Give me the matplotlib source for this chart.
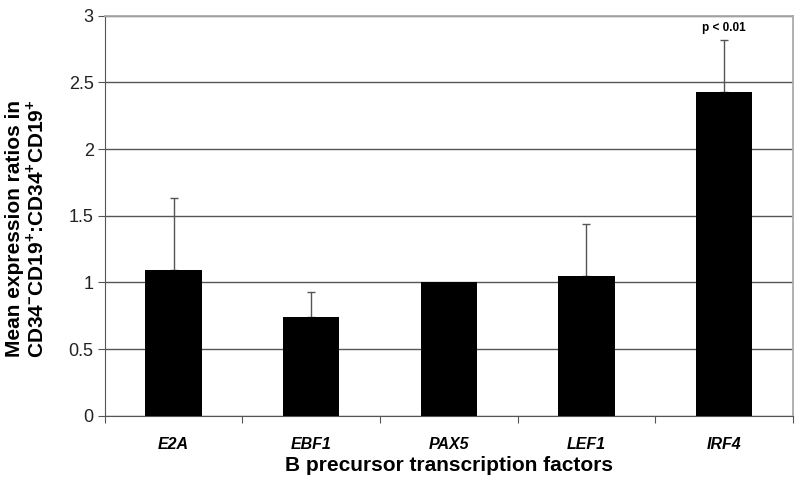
import numpy as np
import matplotlib

matplotlib.use("Agg")
import matplotlib.pyplot as plt

plt.rcParams["font.family"] = ["Liberation Sans", "DejaVu Sans"]
plt.rcParams["mathtext.fontset"] = "custom"
plt.rcParams["mathtext.rm"] = "Liberation Sans:bold"
plt.rcParams["mathtext.bf"] = "Liberation Sans:bold"

# --- data ---
genes = ["E2A", "EBF1", "PAX5", "LEF1", "IRF4"]
ratio = [1.09, 0.74, 1.0, 1.05, 2.43]
err_up = [0.54, 0.19, 0.0, 0.39, 0.39]
yticks = [0, 0.5, 1, 1.5, 2, 2.5, 3]

fig = plt.figure(figsize=(8.0, 4.91), dpi=100)
ax = fig.add_axes([0.131, 0.153, 0.86, 0.815])

x = np.arange(len(genes))
ax.bar(x, ratio, width=0.41, color="black", zorder=3)
has_err = [i for i, e in enumerate(err_up) if e > 0]
ax.errorbar(x[has_err], [ratio[i] for i in has_err],
            yerr=[[0] * len(has_err), [err_up[i] for i in has_err]],
            fmt="none", ecolor="#555555", elinewidth=1.0, capsize=2.6,
            capthick=1.0, zorder=2)
ax.text(x[4], ratio[4] + err_up[4] + 0.04, "p < 0.01", ha="center",
        va="bottom", fontsize=8.5, fontweight="bold")

ax.set_xlim(-0.5, len(genes) - 0.5)
ax.set_ylim(0, 3)
ax.set_yticks(yticks)
ax.set_yticklabels(["0", "0.5", "1", "1.5", "2", "2.5", "3"], fontsize=13,
                   color="#222222")
ax.yaxis.grid(True, color="#555555", lw=1.0, zorder=0)
ax.set_axisbelow(True)

# category boundaries get the tick marks, names sit between them
ax.set_xticks(np.append(x - 0.5, len(genes) - 0.5))
ax.set_xticklabels([""] * (len(genes) + 1))
ax.set_xticks(x, minor=True)
ax.set_xticklabels(genes, minor=True, fontsize=11.5, fontweight="bold",
                   fontstyle="italic")
ax.tick_params(axis="x", which="minor", length=0, pad=15)
ax.tick_params(axis="x", which="major", length=5, color="#555555",
               direction="out")
ax.tick_params(axis="y", length=5, color="#555555", direction="out", pad=3)

for s in ["left", "bottom"]:
    ax.spines[s].set_color("#555555")
for s in ["top", "right"]:
    ax.spines[s].set_color("#aaaaaa")
    ax.spines[s].set_linewidth(1.3)

ax.set_xlabel("B precursor transcription factors", fontsize=15,
              fontweight="bold", labelpad=3)
ax.set_ylabel("Mean expression ratios in\n"
              "CD34$^{-}$CD19$^{+}$:CD34$^{+}$CD19$^{+}$",
              fontsize=15, fontweight="bold", linespacing=1.1)
ax.yaxis.set_label_coords(-0.083, 0.467)

fig.savefig("out.png", dpi=100)
